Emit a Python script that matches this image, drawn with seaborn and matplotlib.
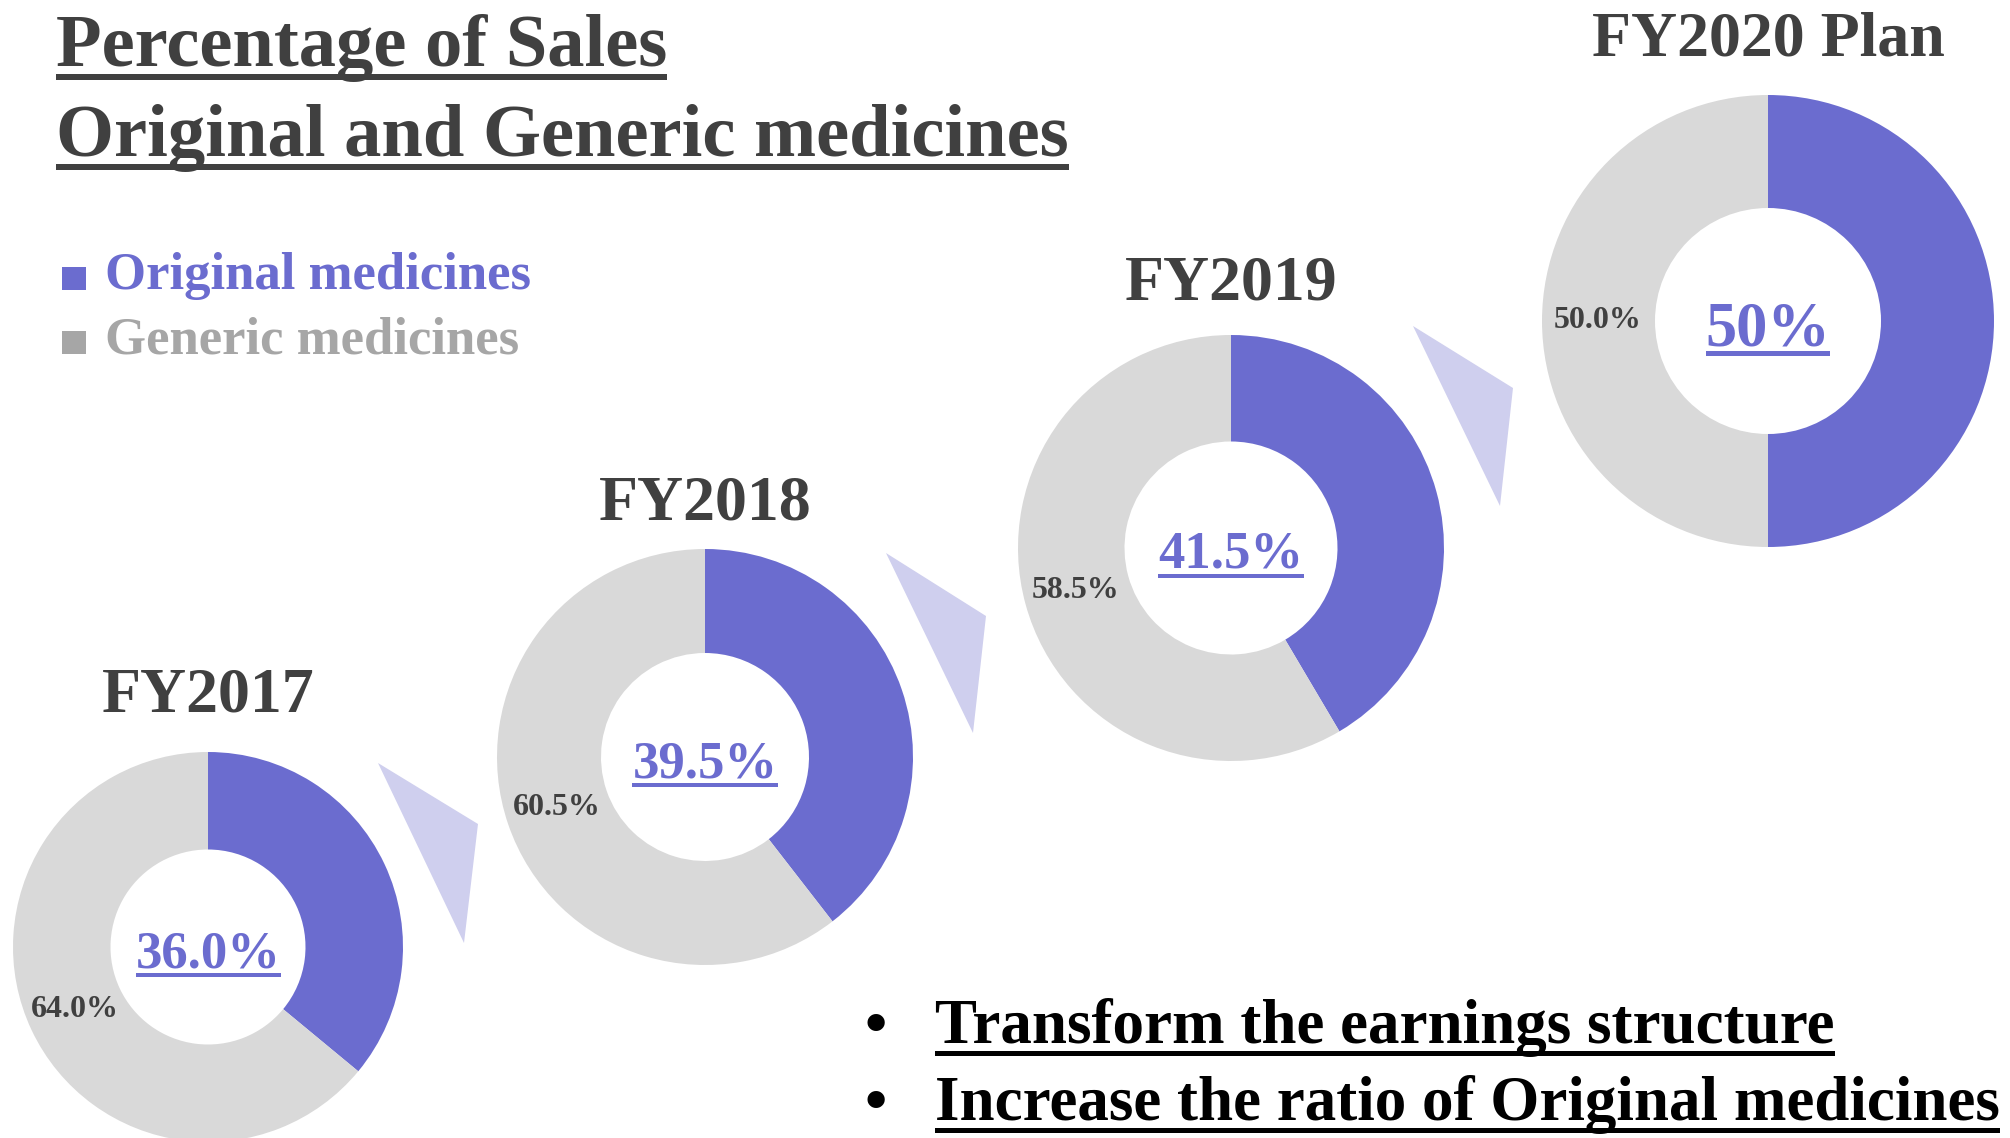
import matplotlib
matplotlib.use("Agg")
import numpy as np
import matplotlib.pyplot as plt
import seaborn as sns
from matplotlib.patches import Polygon, Rectangle

# ---------------- data ----------------
years = ["FY2017", "FY2018", "FY2019", "FY2020 Plan"]
original_pct = [36.0, 39.5, 41.5, 50.0]
generic_pct = [64.0, 60.5, 58.5, 50.0]
center_labels = ["36.0%", "39.5%", "41.5%", "50%"]
series_names = ["Original medicines", "Generic medicines"]
title_lines = ["Percentage of Sales", "Original and Generic medicines"]
bullets = ["Transform the earnings structure", "Increase the ratio of Original medicines"]

# ---------------- style ----------------
W, H, DPI = 2010, 1138, 100
sns.set_theme(style="white")
plt.rcParams["font.family"] = ["Liberation Serif", "DejaVu Serif"]
plt.rcParams["font.weight"] = "bold"

PURPLE = "#6B6CCF"
GRAY = "#D9D9D9"
LEGEND_GRAY = "#A6A6A6"
DARK = "#404040"
ARROW = "#CFCFEE"
palette = sns.color_palette([PURPLE, GRAY])

fig = plt.figure(figsize=(W / DPI, H / DPI), dpi=DPI)
fig.patch.set_facecolor("white")


def fx(x):
    return x / W


def fy(y):
    return 1 - y / H


def underline(txt, baseline, offset, thick, color):
    r = fig.canvas.get_renderer()
    bb = txt.get_window_extent(renderer=r)
    x0 = max(bb.x0, 0)
    x1 = min(bb.x1, W)
    fig.add_artist(Rectangle((fx(x0), fy(baseline + offset + thick)),
                             (x1 - x0) / W, thick / H,
                             transform=fig.transFigure, color=color, lw=0))


# ---------------- layout (pixels) ----------------
centers = [(208, 947), (705, 757), (1231, 548), (1768, 321)]
radii = [195, 208, 213, 226]
title_base = [712, 520, 300, 55]
center_fs = [38, 38, 38, 45]
center_base_off = [20, 20, 20, 24]
PAD = 1.02

# decorative arrow triangles
tris = [
    [(378, 763), (478, 824), (464, 943)],
    [(886, 553), (986, 616), (973, 733)],
    [(1413, 326), (1513, 388), (1500, 506)],
]
for t in tris:
    fig.add_artist(Polygon([(fx(x), fy(y)) for x, y in t], closed=True,
                           transform=fig.transFigure, facecolor=ARROW, edgecolor="none"))

# ---------------- donuts ----------------
for i, (yr, o, g) in enumerate(zip(years, original_pct, generic_pct)):
    cx, cy = centers[i]
    R = radii[i] * PAD
    ax = fig.add_axes([fx(cx - R), fy(cy + R), 2 * R / W, 2 * R / H])
    ax.pie([o, g], colors=palette, startangle=90, counterclock=False, radius=1,
           wedgeprops=dict(width=0.5, linewidth=0))
    ax.set_xlim(-PAD, PAD)
    ax.set_ylim(-PAD, PAD)
    ax.set_aspect("equal")
    ax.axis("off")
    # generic label at wedge middle
    mid = np.deg2rad(90 - (o + g / 2) * 3.6)
    ax.text(0.755 * np.cos(mid), 0.755 * np.sin(mid), f"{g:.1f}%",
            ha="center", va="center", fontsize=23, color=DARK, fontweight="bold")
    # year title
    fig.text(fx(cx), fy(title_base[i]), yr, ha="center", va="baseline",
             fontsize=46, color=DARK, fontweight="bold")
    # center label
    base = cy + center_base_off[i]
    t = fig.text(fx(cx), fy(base), center_labels[i], ha="center", va="baseline",
                 fontsize=center_fs[i], color=PURPLE, fontweight="bold")
    underline(t, base, 6, 4 if i < 3 else 5, PURPLE)

# ---------------- title ----------------
for line, base in zip(title_lines, [66, 156]):
    t = fig.text(fx(56), fy(base), line, ha="left", va="baseline",
                 fontsize=53.7, color=DARK, fontweight="bold")
    underline(t, base, 8, 6, DARK)

# ---------------- legend ----------------
leg_cols = [PURPLE, LEGEND_GRAY]
for name, col, base in zip(series_names, leg_cols, [289, 353]):
    fig.add_artist(Rectangle((fx(62), fy(base + 1)), 24 / W, 23 / H,
                             transform=fig.transFigure, color=col, lw=0))
    fig.text(fx(105), fy(base), name, ha="left", va="baseline",
             fontsize=38, color=col, fontweight="bold")

# ---------------- bullets ----------------
for b, base in zip(bullets, [1043, 1120]):
    fig.text(fx(876), fy(base), "\u2022", ha="center", va="baseline",
             fontsize=46, color="black", fontweight="bold")
    t = fig.text(fx(935), fy(base), b, ha="left", va="baseline",
                 fontsize=45.4, color="black", fontweight="bold")
    underline(t, base, 8, 5, "black")

fig.savefig("out.png", dpi=DPI, facecolor="white")
